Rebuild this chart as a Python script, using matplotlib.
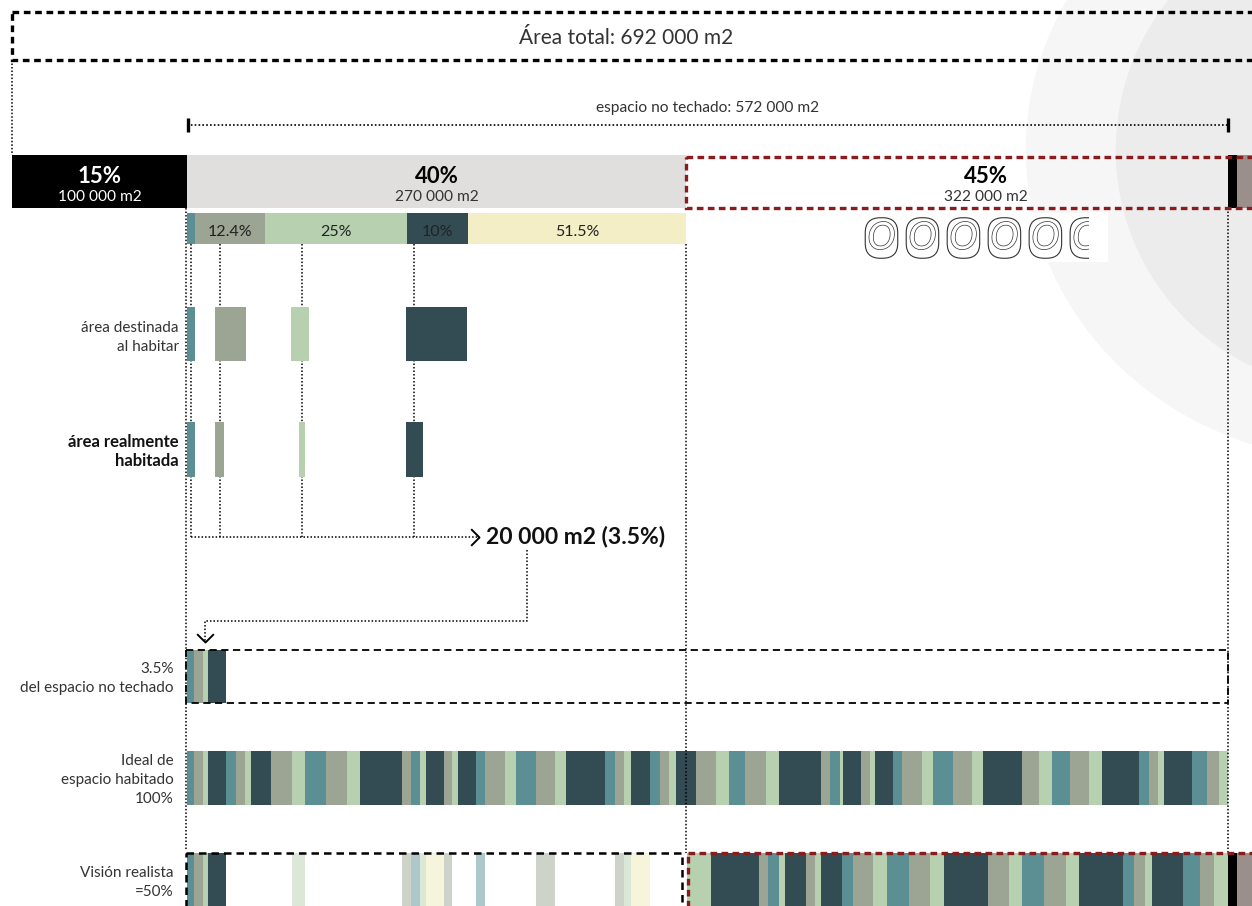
import matplotlib
matplotlib.use("Agg")
import matplotlib.pyplot as plt
import matplotlib.patheffects as pe
from matplotlib.patches import Rectangle, Ellipse
from matplotlib.path import Path

plt.rcParams['font.family'] = ['Lato', 'DejaVu Sans']

# ---------------- datos ----------------
total_label = 'Área total: 692 000 m2'
unroofed_label = 'espacio no techado: 572 000 m2'
inhabited_label = '20 000 m2 (3.5%)'

main_pct = ['15%', '40%', '45%']
main_m2 = ['100 000 m2', '270 000 m2', '322 000 m2']
main_width = [14.4, 41.0, 44.6]          # % del área total, tal como se dibuja

sub_labels = ['', '12.4%', '25%', '10%', '51.5%']
sub_share = [1.6, 14.1, 28.3, 12.4, 43.6]  # reparto del bloque del 40%

# área destinada / realmente habitada (en % del bloque del 40%)
dest_left = [0, 5.6, 20.9, 43.8]
dest_width = [1.6, 6.2, 3.6, 12.4]
real_left = [0, 5.6, 22.5, 43.8]
real_width = [1.6, 1.8, 1.2, 3.6]

# franjas del ideal de espacio habitado (T teal, G gris, L verde claro, D oscuro)
ideal_codes = ('TGLD' 'TGLD' 'GLTGLD' 'GTLD' 'GLD' 'TGLTGLD' 'TGLD' 'TGLD'
               'GLTGLD' 'GTLD' 'GLD' 'TGLTGLD' 'GLTGLD' 'TGLD' 'TGL')
ideal_weights = [7, 9, 5, 18, 10, 9, 6, 20, 21, 13, 21, 21, 13, 42,
                 9, 9, 6, 18, 8, 6, 18, 9, 20, 11, 20, 19, 11, 39,
                 10, 9, 7, 19, 10, 9, 7, 20, 20, 13, 16, 21, 13, 42,
                 9, 10, 3, 18, 9, 5, 18, 9, 20, 11, 20, 19, 11, 39,
                 17, 13, 18, 19, 13, 37, 10, 9, 6, 28, 15, 12, 9]

# visión realista
small_count = 4                                   # franjas del 3.5%
vision_faded = [9, 14, 15, 16, 17, 18, 21, 25, 29, 30, 31]
right_codes = 'LDGTLD' 'GLD' 'TGLTGLD' 'GLTGLD' 'TGLD' 'TGL'
right_weights = [24, 48, 9, 11, 6, 21, 9, 6, 21, 11, 20, 14, 22, 21, 14, 44,
                 21, 13, 22, 22, 13, 44, 11, 11, 7, 31, 17, 14, 14]

row_labels = {
    'dest': ['área destinada', 'al habitar'],
    'real': ['área realmente', 'habitada'],
    'small': ['3.5%', 'del espacio no techado'],
    'ideal': ['Ideal de', 'espacio habitado', '100%'],
    'vision': ['Visión realista', '=50%'],
}

# ---------------- estilos ----------------
COL = {'T': '#5b8f94', 'G': '#9ca493', 'L': '#b7d0b0', 'D': '#334c53'}
FADED = {'T': '#adc8cb', 'G': '#cdd3c9', 'L': '#dbe8d7', 'D': '#f7f4dc'}
CREAM = '#f4eec6'
LIGHT = '#e0dfdd'
RED = '#8a1c1e'
BROWN = '#9b8f8c'
TXT = '#333333'
DOT = (0, (1, 1.3))

# filas (px desde arriba)
ROW = {'total': (12, 60), 'main': (155, 208), 'sub': (213, 244),
       'dest': (307, 361), 'real': (422, 477), 'small': (650, 703),
       'ideal': (751, 805), 'vision': (853, 912)}

fig = plt.figure(figsize=(12.52, 9.06), dpi=100)
ax = fig.add_axes([0, 0, 1, 1])
ax.set_xlim(-0.99, 101.97)
ax.set_ylim(906, 0)
ax.axis('off')


def row(name):
    top, bot = ROW[name]
    return (top + bot) / 2, bot - top


def stripes(weights, start, end):
    scale = (end - start) / sum(weights)
    lefts, widths, pos = [], [], start
    for w in weights:
        lefts.append(pos)
        widths.append(w * scale)
        pos += w * scale
    return lefts, widths


main_left = [0, main_width[0], main_width[0] + main_width[1]]
x40, w40 = main_left[1], main_width[1]


def share(s):
    return x40 + s * w40 / 100


# marca de agua (sello difuminado)
ax.add_patch(Ellipse((110.5, 150), 660 / 12.16, 620, color='#f6f6f6', zorder=0, lw=0))
ax.add_patch(Ellipse((110.5, 150), 480 / 12.16, 480, color='#ececec', zorder=0, lw=0))

# área total
ax.add_patch(Rectangle((0, 12), 110, 48, fill=False, ec='black', lw=2.4,
                       ls=(0, (2, 1.4)), zorder=4))
ax.text(sum(ax.get_xlim()) / 2, 44, total_label, ha='center', va='baseline',
        fontsize=15, color=TXT)
ax.plot([0, 0], [60, 155], color='black', lw=1.1, ls=DOT, zorder=3)

# espacio no techado
ax.plot([x40, 100], [125, 125], color='black', lw=1.2, ls=DOT)
ax.vlines([x40 + 0.1, 100], 118, 132, color='black', lw=2.4)
ax.text((x40 + 100) / 2, 112, unroofed_label, ha='center', va='baseline',
        fontsize=11.2, color=TXT)

# barra principal
c, h = row('main')
ax.barh(c, main_width[:2], left=main_left[:2], height=h, color=['black', LIGHT], zorder=2)
ax.add_patch(Rectangle((main_left[2], 157), 50, 51, fill=False, ec=RED, lw=2.4,
                       ls=(0, (2, 1.3)), zorder=4))
ax.barh(c, 0.7, left=100, height=h, color='black', zorder=2)
ax.barh(c, 5, left=100.7, height=h, color=BROWN, zorder=2)
label_pos = [0.5, 0.5, 0.553]
for i in range(3):
    xc = main_left[i] + main_width[i] * label_pos[i]
    col = 'white' if i == 0 else 'black'
    ax.text(xc, 183, main_pct[i], ha='center', va='baseline', fontsize=16,
            fontweight='bold', color=col, zorder=5)
    ax.text(xc, 201, main_m2[i], ha='center', va='baseline', fontsize=11.2,
            color='white' if i == 0 else TXT, zorder=5)

# sub-barra del 40%
c, h = row('sub')
lefts, widths = stripes(sub_share, x40, x40 + w40)
ax.barh(c, widths, left=lefts, height=h,
        color=[COL['T'], COL['G'], COL['L'], COL['D'], CREAM], zorder=2)
for l, w, lab in zip(lefts, widths, sub_labels):
    ax.text(l + w / 2, 236, lab, ha='center', va='baseline', fontsize=11.5,
            color='#222222', zorder=5)

# OOOOOO (glifos sin fuente)
ax.add_patch(Rectangle((69.7, 213), 20.4, 49, color='white', zorder=1, lw=0))
for k in range(6):
    ax.text(71.5 + 3.37 * k, 238, 'O', ha='center', va='center', fontsize=27,
            style='italic', color='white', zorder=2,
            bbox=dict(boxstyle='round,pad=0.06,rounding_size=0.4', fc='white',
                      ec='#333333', lw=0.8),
            path_effects=[pe.Stroke(linewidth=1.0, foreground='#333333'),
                          pe.Normal()])
ax.add_patch(Rectangle((88.6, 212), 1.5, 50, color='white', zorder=3, lw=0))

# área destinada y realmente habitada
sub_cols = [COL['T'], COL['G'], COL['L'], COL['D']]
c, h = row('dest')
ax.barh(c, [s * w40 / 100 for s in dest_width], left=[share(s) for s in dest_left],
        height=h, color=sub_cols, zorder=2)
c, h = row('real')
ax.barh(c, [s * w40 / 100 for s in real_width], left=[share(s) for s in real_left],
        height=h, color=sub_cols, zorder=2)

# conectores
centers = [share(l + w / 2) for l, w in zip(real_left, real_width)]
ax.vlines(centers, 244, 537, color='black', lw=1.1, linestyles=DOT, zorder=1)
ax.plot([centers[0], 38.3], [537, 537], color='black', lw=1.1, ls=DOT)
chev_right = Path([(-1, 1), (0, 0), (-1, -1)], [Path.MOVETO, Path.LINETO, Path.LINETO])
chev_down = Path([(-1, 1), (0, 0), (1, 1)], [Path.MOVETO, Path.LINETO, Path.LINETO])
ax.plot([38.4], [537], marker=chev_right, ms=12, mew=1.4, mec='black', mfc='none')
ax.text(39.0, 543, inhabited_label, ha='left', va='baseline', fontsize=16.5,
        fontweight='bold', color='#111111')
ax.plot([42.35, 42.35, 15.87, 15.87], [550, 621, 621, 641], color='black',
        lw=1.1, ls=DOT)
ax.plot([15.87], [642], marker=chev_down, ms=12, mew=1.4, mec='black', mfc='none')

# líneas guía largas
ax.plot([14.3, 14.3], [208, 850], color='black', lw=1.1, ls=DOT, zorder=3)
ax.plot([55.4, 55.4], [244, 853], color='black', lw=1.1, ls=DOT, zorder=3)
ax.plot([100, 100], [208, 853], color='black', lw=1.1, ls=DOT, zorder=3)

# franjas ideales
ideal_lefts, ideal_widths = stripes(ideal_weights, x40, 100)
c, h = row('small')
ax.barh(c, ideal_widths[:small_count], left=ideal_lefts[:small_count], height=h,
        color=[COL[k] for k in ideal_codes[:small_count]], zorder=2)
ax.add_patch(Rectangle((14.3, 650), 100 - 14.3, 53, fill=False, ec='black', lw=1.3,
                       ls=(0, (4, 2.5)), zorder=4))

c, h = row('ideal')
ax.barh(c, ideal_widths, left=ideal_lefts, height=h,
        color=[COL[k] for k in ideal_codes], zorder=2)

# visión realista
c, h = row('vision')
ax.barh(c, ideal_widths[:small_count], left=ideal_lefts[:small_count], height=h,
        color=[COL[k] for k in ideal_codes[:small_count]], zorder=2)
ax.barh(c, [ideal_widths[i] for i in vision_faded],
        left=[ideal_lefts[i] for i in vision_faded], height=h,
        color=[FADED[ideal_codes[i]] for i in vision_faded], zorder=2)
r_lefts, r_widths = stripes(right_weights, 55.5, 100)
ax.barh(c, r_widths, left=r_lefts, height=h,
        color=[COL[k] for k in right_codes], zorder=2)
ax.barh(c, 0.7, left=100, height=h, color='black', zorder=2)
ax.barh(c, 5, left=100.7, height=h, color=BROWN, zorder=2)
ax.add_patch(Rectangle((14.3, 853), 55.1 - 14.3, 70, fill=False, ec='black', lw=1.8,
                       ls=(0, (3, 2)), zorder=4))
ax.add_patch(Rectangle((55.6, 853), 50, 70, fill=False, ec=RED, lw=2.4,
                       ls=(0, (2, 1.3)), zorder=4))

# etiquetas de filas
label_base = {'dest': (13.7, 332), 'real': (13.7, 447), 'small': (13.3, 673),
              'ideal': (13.3, 765), 'vision': (13.3, 877)}
for key, lines in row_labels.items():
    x, y = label_base[key]
    bold = key == 'real'
    for j, line in enumerate(lines):
        ax.text(x, y + 19 * j, line, ha='right', va='baseline',
                fontsize=12 if bold else 11,
                color='#111111' if bold else TXT,
                fontweight='bold' if bold else 'normal')

fig.savefig('out.png', dpi=100)
